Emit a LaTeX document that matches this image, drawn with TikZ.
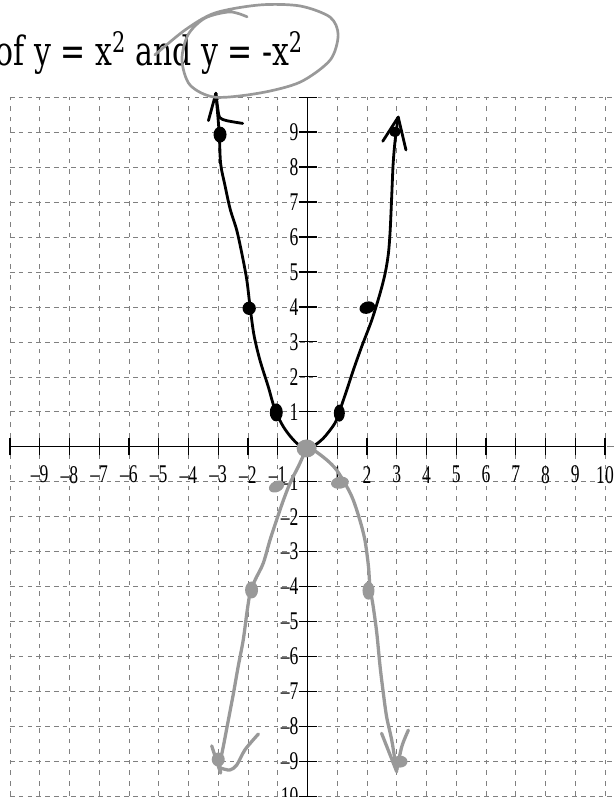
\documentclass[tikz,border=0pt]{standalone}
\usepackage{fontspec}
\usepackage{graphicx}
\setmainfont{Liberation Serif}
\newfontfamily\titlefont{DejaVu Serif}
\newcommand{\tallnum}[1]{\scalebox{1}[1.45]{#1}}

\begin{document}
\begin{tikzpicture}[
    x=0.8925cm,y=1.0485cm,
    gridh/.style={draw=black!50, line width=0.5pt, dash pattern=on 4pt off 3.5pt},
    gridv/.style={draw=black!50, line width=0.5pt, dash pattern=on 4pt off 5pt},
    axis/.style={draw=black, line width=1.1pt},
    numlab/.style={font=\fontsize{15}{15}\selectfont, inner sep=0pt},
    pen/.style={draw=black, line width=2.4pt, line cap=round, line join=round},
    greypen/.style={draw=black!40, line width=2.8pt, line cap=round, line join=round},
    blob/.style={fill=black},
    greyblob/.style={fill=black!40}
]
    \useasboundingbox (-10.336,-10.023) rectangle (10.269,12.781);

    % grid
    \draw[gridh] (-10,-10.6) grid[xstep=100,ystep=1] (10.4,10);
    \draw[gridv] (-10,-10.6) grid[xstep=1,ystep=100] (10.4,10);

    % axes
    \draw[axis] (-10,0) -- (10,0);
    \draw[axis] (0,10) -- (0,-10.6);
    \foreach \i in {-10,...,10} {
        \draw[axis] (\i,-0.25) -- (\i,0.25);
        \draw[axis] (-0.3,\i) -- (0.33,\i);
    }

    % numbers
    \foreach \n in {1,...,9}
        \node[numlab, anchor=east] (ylab\n) at (-0.3,\n) {\tallnum{\n}};
    \foreach \n in {1,...,10}
        \node[numlab, anchor=east] (ylabm\n) at (-0.3,-\n) {\tallnum{\textendash\n}};
    \foreach \n in {1,...,9}
        \node[numlab] (xlabm\n) at (-\n,-0.8) {\tallnum{\textendash\n}};
    \foreach \n in {1,...,10}
        \node[numlab] (xlab\n) at (\n,-0.8) {\tallnum{\n}};

    % y = x^2
    \draw[pen] plot[smooth] coordinates {(-3.08,10.11) (-2.97,9.0) (-2.92,8.1)
        (-2.78,7.5) (-2.6,6.8) (-2.38,6.2) (-2.2,5.5) (-2.04,4.77) (-1.93,4.0)
        (-1.8,3.2) (-1.6,2.48) (-1.32,1.72) (-1.09,1.05) (-0.81,0.57) (-0.5,0.22)
        (-0.2,0.0) (0.15,0.0) (0.53,0.24) (0.92,0.67) (1.09,1.05) (1.32,1.62)
        (1.54,2.19) (1.82,2.86) (2.16,3.62) (2.44,4.39) (2.61,4.96) (2.72,5.53)
        (2.78,6.2) (2.83,7.15) (2.88,8.11) (2.95,8.8) (3.05,9.43)};
    \draw[pen] (-3.33,9.33) -- (-3.08,10.11);
    \draw[pen] plot[smooth] coordinates {(-3.08,10.11) (-3.02,9.7) (-2.95,9.42)
        (-2.72,9.33) (-2.18,9.25)};
    \draw[pen] (2.53,8.74) -- (3.05,9.43) -- (3.31,8.49);

    \fill[blob] (-2.94,8.93) ellipse [x radius=0.195cm, y radius=0.24cm];
    \fill[blob] (-1.96,3.96) ellipse [x radius=0.2cm, y radius=0.2cm];
    \fill[blob] (-1.05,0.98) ellipse [x radius=0.195cm, y radius=0.27cm];
    \fill[blob] (1.07,0.96) ellipse [x radius=0.165cm, y radius=0.255cm];
    \fill[blob, rotate around={20:(2.01,3.98)}] (2.01,3.98) ellipse [x radius=0.24cm, y radius=0.18cm];
    \fill[blob] (2.94,9.01) ellipse [x radius=0.18cm, y radius=0.15cm];

    % y = -x^2
    \draw[greypen] plot[smooth] coordinates {(-2.92,-9.32) (-2.94,-9.06)
        (-2.83,-8.58) (-2.66,-7.82) (-2.49,-7.06) (-2.33,-6.29) (-2.16,-5.53)
        (-2.04,-4.77) (-1.93,-4.19) (-1.76,-3.81) (-1.49,-3.34) (-1.26,-2.67)
        (-1.04,-2.10) (-0.81,-1.53) (-0.59,-1.05) (-0.31,-0.57) (-0.03,-0.09)
        (0.19,-0.09) (0.65,-0.38) (0.98,-0.67) (1.32,-1.14) (1.54,-1.53)
        (1.76,-2.10) (1.93,-2.67) (2.05,-3.43) (2.10,-4.01) (2.21,-4.58)
        (2.33,-5.34) (2.44,-6.29) (2.55,-7.06) (2.66,-7.73) (2.83,-8.39)
        (2.94,-8.96) (3.00,-9.25)};
    \draw[greypen] (-3.22,-8.56) -- (-2.92,-9.34);
    \draw[greypen] plot[smooth] coordinates {(-2.9,-9.2) (-2.61,-9.25)
        (-2.38,-9.11) (-2.10,-8.67) (-1.65,-8.22)};
    \draw[greypen] (2.49,-8.20) -- (3.00,-9.30);
    \draw[greypen] plot[smooth] coordinates {(3.00,-9.25) (3.17,-8.58) (3.39,-8.11)};

    \fill[greyblob] (-0.03,-0.05) ellipse [x radius=0.3cm, y radius=0.27cm];
    \fill[greyblob, rotate around={25:(-1.04,-1.14)}] (-1.04,-1.14) ellipse [x radius=0.24cm, y radius=0.165cm];
    \fill[greyblob, rotate around={10:(1.09,-1.03)}] (1.09,-1.03) ellipse [x radius=0.27cm, y radius=0.18cm];
    \fill[greyblob] (-1.88,-4.10) ellipse [x radius=0.195cm, y radius=0.255cm];
    \fill[greyblob] (2.05,-4.12) ellipse [x radius=0.18cm, y radius=0.27cm];
    \fill[greyblob] (-3.0,-8.95) ellipse [x radius=0.195cm, y radius=0.21cm];
    \fill[greyblob] (3.11,-9.01) ellipse [x radius=0.225cm, y radius=0.18cm];

    % title
    \node[anchor=base east, inner sep=0pt, font=\titlefont\fontsize{30}{30}\selectfont] (title)
        at (-0.15,10.92) {\scalebox{0.85}[1.15]{of y = x\textsuperscript{2} and y = -x\textsuperscript{2}}};
    \draw[greypen, line width=2.3pt] plot[smooth] coordinates {(-5.13,11.21) (-4.12,11.92)
        (-3.11,12.41) (-1.60,12.64) (-0.25,12.61) (0.76,12.29) (1.03,11.78)
        (0.76,11.06) (-0.25,10.43) (-1.60,10.12) (-3.11,10.00) (-3.95,10.35)
        (-4.22,11.06) (-4.02,11.78) (-3.45,12.26) (-2.61,12.44) (-2.03,12.30)};

\end{tikzpicture}
\end{document}
